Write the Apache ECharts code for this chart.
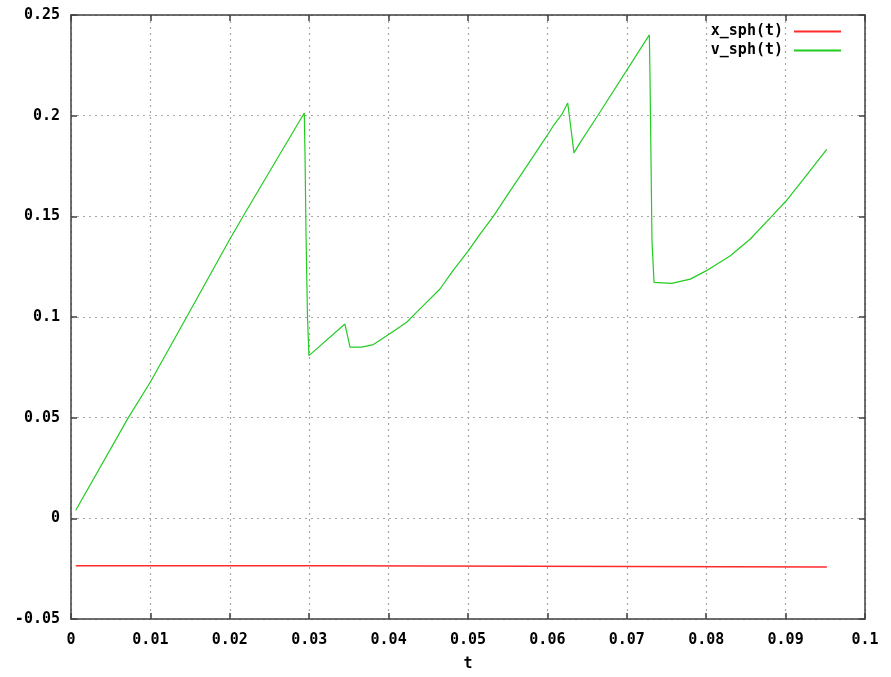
<!DOCTYPE html>
<html>
<head>
<meta charset="utf-8">
<script src="https://cdn.jsdelivr.net/npm/echarts@6/dist/echarts.min.js"></script>
<style>html,body{margin:0;padding:0;background:#fff}#c{width:891px;height:677px}</style>
</head>
<body>
<div id="c"></div>
<script>
const seriesNames = ['x_sph(t)', 'v_sph(t)'];
const xTicks = [0, 0.1, 0.01];
const yTicks = [-0.05, 0.25, 0.05];

const tX = [0.0006, 0.0329, 0.0329, 0.0952];
const vX = [-0.0236, -0.0236, -0.0242, -0.0242];

const tV = [0.0006, 0.00722, 0.0100, 0.01457, 0.0200, 0.0219, 0.02938,
  0.02947, 0.02960, 0.02978, 0.02997,
  0.0345, 0.03514, 0.0366, 0.03808, 0.0401, 0.04228, 0.04395, 0.04647, 0.04815, 0.05004,
  0.05151, 0.05319, 0.05487, 0.0574, 0.05991, 0.06075, 0.0618, 0.06256, 0.06335, 0.0641,
  0.06637, 0.07284, 0.07292, 0.07305, 0.07317, 0.07343, 0.07355, 0.07565, 0.0780, 0.07997,
  0.0830, 0.08552, 0.08825, 0.09005, 0.09223, 0.09518];
const vV = [0.004, 0.050, 0.0677, 0.100, 0.1386, 0.1515, 0.2013,
  0.1817, 0.141, 0.1006, 0.0808,
  0.0965, 0.0850, 0.0850, 0.0863, 0.0916, 0.0974, 0.1040, 0.1139, 0.1233, 0.1328,
  0.1412, 0.1500, 0.1600, 0.1749, 0.1898, 0.1950, 0.2005, 0.2063, 0.1815, 0.1865,
  0.2002, 0.2401, 0.2195, 0.1782, 0.1378, 0.1172, 0.1168, 0.1167, 0.1188, 0.1229,
  0.1303, 0.1386, 0.1500, 0.1576, 0.1683, 0.1832];

const font = {fontFamily: 'DejaVu Sans Mono', fontWeight: 'bold', fontSize: 15, color: '#000'};
const pairs = (a, b) => a.map((t, i) => [t, b[i]]);
const fmt = v => (Math.round(v * 1000) / 1000).toString();

const axisLine = {show: true, onZero: false, lineStyle: {color: '#404040', width: 1.5}};
const tick = {show: true, inside: true, length: 6, lineStyle: {color: '#404040', width: 1.5}};
const split = {show: true, lineStyle: {color: '#a8a8a8', type: [2, 4], width: 1.2}};

const chart = echarts.init(document.getElementById('c'));
chart.setOption({
  animation: false,
  backgroundColor: '#fff',
  grid: {left: 71, right: 26, top: 15, bottom: 56},
  legend: {
    orient: 'vertical', right: 45, top: 19, align: 'right',
    itemWidth: 47, itemHeight: 2, itemGap: 4, icon: 'rect',
    textStyle: Object.assign({}, font, {padding: [0, 6, 0, 0]}),
    data: seriesNames
  },
  xAxis: [{
    type: 'value', min: xTicks[0], max: xTicks[1], interval: xTicks[2],
    name: 't', nameLocation: 'middle', nameGap: 38, nameTextStyle: font,
    axisLine, axisTick: tick, splitLine: split,
    axisLabel: Object.assign({}, font, {margin: 14, formatter: fmt})
  }, {
    type: 'value', position: 'top', min: xTicks[0], max: xTicks[1], interval: xTicks[2],
    axisLine, axisTick: tick, splitLine: {show: false}, axisLabel: {show: false}
  }],
  yAxis: [{
    type: 'value', min: yTicks[0], max: yTicks[1], interval: yTicks[2],
    axisLine, axisTick: tick, splitLine: split,
    axisLabel: Object.assign({}, font, {margin: 11, formatter: fmt})
  }, {
    type: 'value', position: 'right', min: yTicks[0], max: yTicks[1], interval: yTicks[2],
    axisLine, axisTick: tick, splitLine: {show: false}, axisLabel: {show: false}
  }],
  series: [{
    name: seriesNames[0], type: 'line', symbol: 'none', data: pairs(tX, vX),
    lineStyle: {color: '#ff2a2a', width: 1.5}, itemStyle: {color: '#ff2a2a'}
  }, {
    name: seriesNames[1], type: 'line', symbol: 'none', data: pairs(tV, vV),
    lineStyle: {color: '#22cc22', width: 1.2}, itemStyle: {color: '#22cc22'}
  }]
});
</script>
</body>
</html>
